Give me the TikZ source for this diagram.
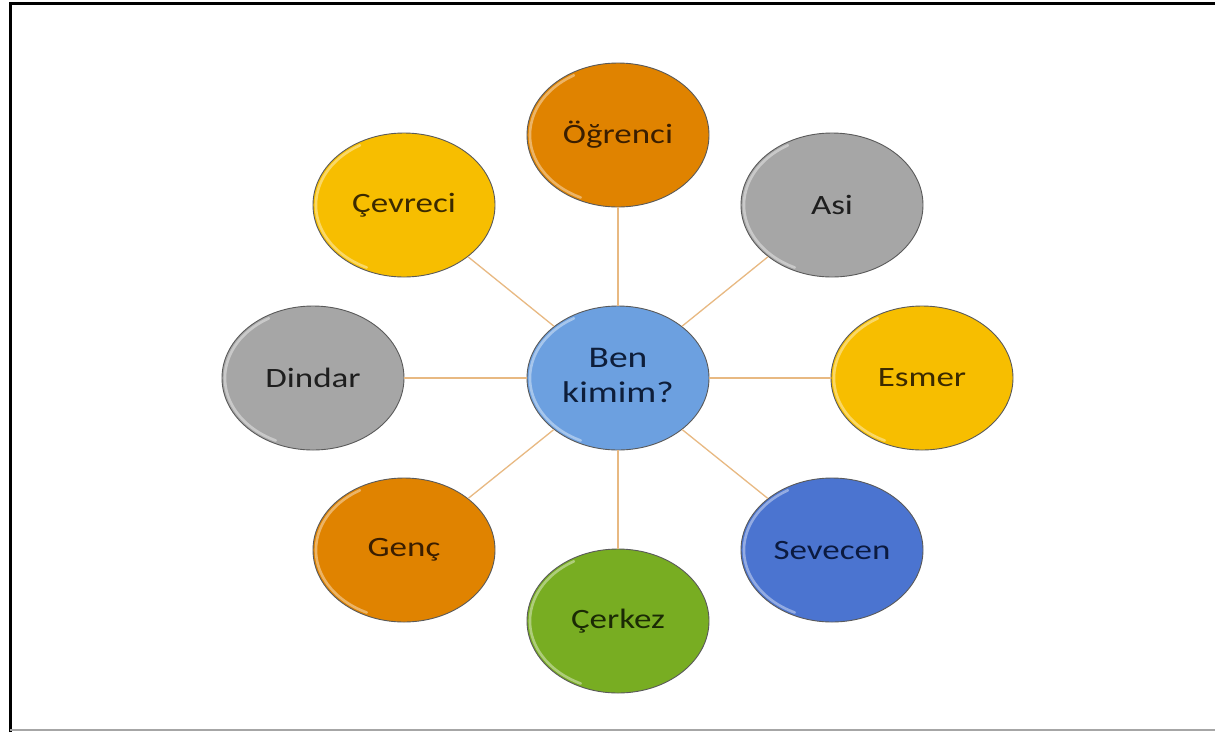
\documentclass[tikz,border=0pt]{standalone}
\usepackage{fontspec}
\setmainfont{Carlito}
\usetikzlibrary{shapes.geometric}
\definecolor{orangeF}{HTML}{E08300}
\definecolor{orangeT}{HTML}{3A1E00}
\definecolor{goldF}{HTML}{F7BE00}
\definecolor{goldT}{HTML}{3B2A00}
\definecolor{grayF}{HTML}{A6A6A6}
\definecolor{grayT}{HTML}{1E1E1E}
\definecolor{lblueF}{HTML}{6CA0E0}
\definecolor{lblueT}{HTML}{0E1E3A}
\definecolor{blueF}{HTML}{4B74D0}
\definecolor{blueT}{HTML}{0B1A40}
\definecolor{greenF}{HTML}{78AD22}
\definecolor{greenT}{HTML}{1B2A05}
\definecolor{linkC}{HTML}{E8B982}
\definecolor{rimC}{HTML}{5A5A5A}
\newcommand{\wide}[1]{\scalebox{1.25}[1]{#1}}
\tikzset{
  bubble/.style={ellipse, draw=rimC, line width=0.9pt, minimum width=182pt, minimum height=144pt, inner sep=0pt, font=\fontsize{28}{33}\selectfont},
  link/.style={draw=linkC, line width=1.3pt},
  hl/.style={draw=white, line width=2.6pt, opacity=0.4, line cap=round},
}
\begin{document}
\begin{tikzpicture}[x=1pt,y=-1pt]
\useasboundingbox (0,0) rectangle (1215,732);
\fill[white] (0,0) rectangle (1215,732);
% frame
\draw[line width=3pt, black] (10,732) -- (10,3) -- (1215,3);
\draw[line width=1.2pt, black!35] (10,730) -- (1215,730);
% nodes
\node[bubble, fill=lblueF, text=lblueT, font=\fontsize{30}{35}\selectfont] (c) at (618,378) {\wide{\begin{tabular}{@{}c@{}}Ben\\kimim?\end{tabular}}};
\node[bubble, fill=orangeF, text=orangeT] (o) at (618,135) {\wide{Öğrenci}};
\node[bubble, fill=grayF, text=grayT] (a) at (832,205) {\wide{Asi}};
\node[bubble, fill=goldF, text=goldT] (e) at (922,378) {\wide{Esmer}};
\node[bubble, fill=blueF, text=blueT] (s) at (832,550) {\wide{Sevecen}};
\node[bubble, fill=greenF, text=greenT] (k) at (618,621) {\wide{Çerkez}};
\node[bubble, fill=orangeF, text=orangeT] (g) at (404,550) {\wide{Genç}};
\node[bubble, fill=grayF, text=grayT] (d) at (313,378) {\wide{Dindar}};
\node[bubble, fill=goldF, text=goldT] (v) at (404,205) {\wide{Çevreci}};
% highlights
\foreach \n in {c,o,a,e,s,k,g,d,v}{
  \draw[hl] (\n.center) ++(120:88pt and 69pt) arc[start angle=120, end angle=245, x radius=88pt, y radius=69pt];
}
% connectors
\foreach \n in {o,a,e,s,k,g,d,v}{
  \draw[link] (c) -- (\n);
}
\end{tikzpicture}
\end{document}
